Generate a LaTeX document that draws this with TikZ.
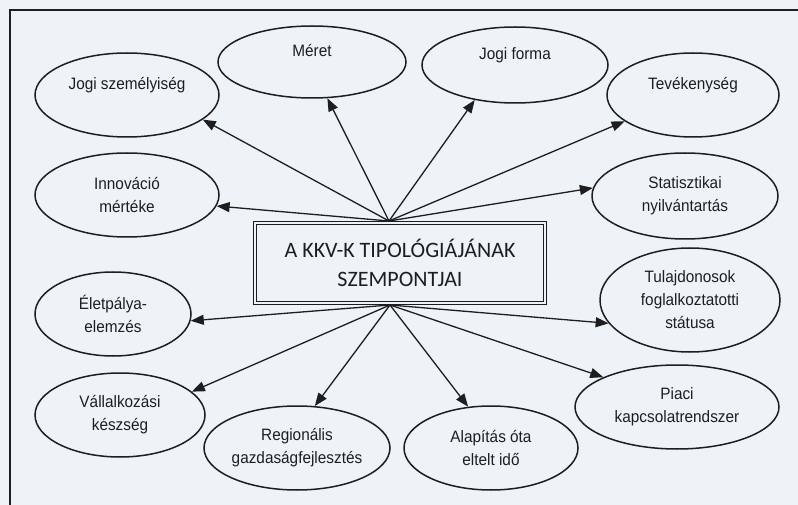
\documentclass[tikz,border=0pt]{standalone}
\usepackage{fontspec}
\setmainfont{Liberation Sans}
\newfontfamily\ovalfont{Liberation Sans}[FakeStretch=0.93]
\newfontfamily\boxfont{Carlito}
\usetikzlibrary{arrows.meta,shapes.geometric}
\definecolor{bg}{HTML}{EEF3F7}
\definecolor{ink}{HTML}{1E1E1E}
\begin{document}
\begin{tikzpicture}[x=1pt,y=-1pt,
  oval/.style={ellipse, draw=ink, line width=1.5pt, fill=bg, inner sep=0pt,
    align=center, text=ink, font=\ovalfont\fontsize{16.5}{23}\selectfont},
  link/.style={draw=ink, line width=1.3pt, -{Triangle[length=13pt,width=10pt]}}]
\useasboundingbox (0,0) rectangle (798,505);
\fill[bg] (0,0) rectangle (798,505);
\draw[ink, line width=1.8pt] (10,520) -- (10,10) -- (810,10);

\node[oval, minimum width=184pt, minimum height=84pt] (jsz) at (127,95) {Jogi személyiség\\\mbox{}};
\node[oval, minimum width=188pt, minimum height=72pt] (mer) at (312,62) {Méret\\\mbox{}};
\node[oval, minimum width=186pt, minimum height=76pt] (jfo) at (515,65) {Jogi forma\\\mbox{}};
\node[oval, minimum width=172pt, minimum height=84pt] (tev) at (693,95) {Tevékenység\\\mbox{}};
\node[oval, minimum width=184pt, minimum height=84pt] (inn) at (127,195) {Innováció\\mértéke};
\node[oval, minimum width=186pt, minimum height=86pt] (sta) at (685,196) {Statisztikai\\nyilvántartás};
\node[oval, minimum width=156pt, minimum height=84pt] (ele) at (113,314) {Életpálya-\\elemzés};
\node[oval, minimum width=180pt, minimum height=104pt] (tul) at (690,300) {Tulajdonosok\\foglalkoztatotti\\státusa};
\node[oval, minimum width=170pt, minimum height=84pt] (val) at (120,415) {Vállalkozási\\készség};
\node[oval, minimum width=186pt, minimum height=84pt] (reg) at (297,448) {Regionális\\gazdaságfejlesztés};
\node[oval, minimum width=174pt, minimum height=84pt] (ala) at (491,448) {Alapítás óta\\eltelt idő};
\node[oval, minimum width=204pt, minimum height=84pt] (pia) at (677,407) {Piaci\\kapcsolatrendszer};

\node[draw=ink, double=bg, double distance=2pt, line width=1.1pt, fill=bg,
  minimum width=290pt, minimum height=80pt, inner sep=0pt, align=center, text=ink,
  font=\boxfont\fontsize{22}{29}\selectfont] (box) at (400,263)
  {A KKV-K TIPOLÓGIÁJÁNAK\\SZEMPONTJAI};

\coordinate (top) at (389,221);
\coordinate (bot) at (390,305);

\draw[link] (top) -- (jsz.-18.6);
\draw[link] (top) -- (mer.-67.3);
\draw[link] (top) -- (jfo.221);
\draw[link] (top) -- (tev.201);
\draw[link] (top) -- (inn.-7.8);
\draw[link] (top) -- (sta.175);
\draw[link] (bot) -- (ele.-5);
\draw[link] (bot) -- (val.18.9);
\draw[link] (bot) -- (reg.67.3);
\draw[link] (bot) -- (ala.119.3);
\draw[link] (bot) -- (tul.196.8);
\draw[link] (bot) -- (pia.158.6);
\end{tikzpicture}
\end{document}
